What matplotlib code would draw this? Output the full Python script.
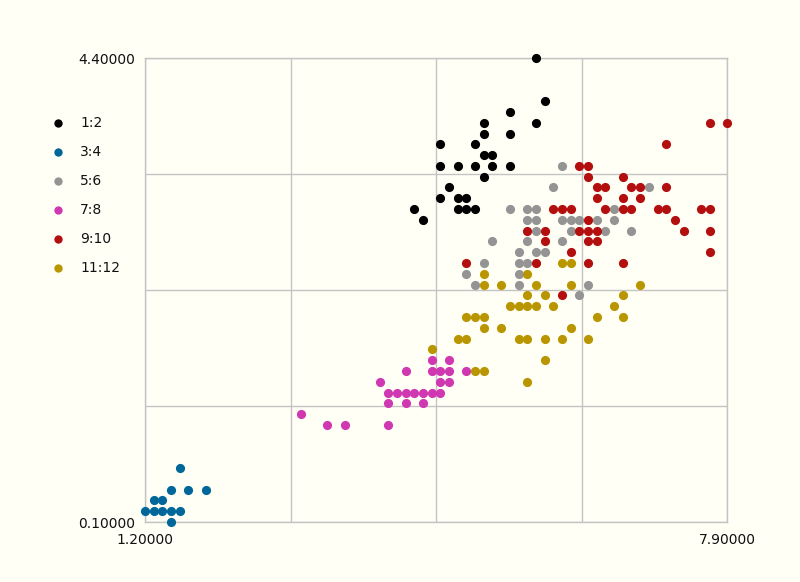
import numpy as np
import matplotlib
matplotlib.use("Agg")
import matplotlib.pyplot as plt
from matplotlib.lines import Line2D

# columns 1:2
s12_x = [5.7, 5.8, 5.4, 5.1, 5.7, 5.1, 5.4, 4.6, 5.0, 5.1, 5.2, 4.6, 4.8, 5.0, 5.2, 5.4, 5.1,
         4.7, 4.6, 4.8, 4.9, 4.8, 4.9, 5.0, 4.3, 4.4]
s12_y = [4.4, 4.0, 3.9, 3.8, 3.8, 3.7, 3.7, 3.6, 3.6, 3.5, 3.5, 3.4, 3.4, 3.4, 3.4, 3.4, 3.3,
         3.2, 3.1, 3.1, 3.1, 3.0, 3.0, 3.0, 3.0, 2.9]

# columns 3:4
s34_x = [1.6, 1.5, 1.7, 1.9, 1.3, 1.4, 1.2, 1.3, 1.4, 1.5, 1.6, 1.5]
s34_y = [0.6, 0.4, 0.4, 0.4, 0.3, 0.3, 0.2, 0.2, 0.2, 0.2, 0.2, 0.1]

# columns 5:6
s56_x = [6.0, 5.9, 7.0, 5.4, 5.6, 5.7, 6.6, 5.6, 5.7, 6.0, 6.1, 6.2, 6.4, 6.6, 5.7, 6.1, 6.5,
         6.8, 5.2, 5.6, 6.0, 5.5, 5.7, 5.8, 5.1, 5.5, 5.6, 4.9, 5.5, 5.0, 5.5, 6.3, 6.2]
s56_y = [3.4, 3.2, 3.2, 3.0, 3.0, 3.0, 3.0, 2.9, 2.9, 2.9, 2.9, 2.9, 2.9, 2.9, 2.8, 2.8, 2.8,
         2.8, 2.7, 2.7, 2.7, 2.6, 2.6, 2.6, 2.5, 2.5, 2.5, 2.4, 2.4, 2.3, 2.3, 2.3, 2.2]

# columns 7:8
s78_x = [4.5, 4.7, 4.2, 4.5, 4.6, 4.7, 4.9, 3.9, 4.6, 4.7, 4.0, 4.1, 4.2, 4.3, 4.4, 4.5, 4.6,
         4.0, 4.2, 4.4, 3.0, 3.3, 3.5, 4.0]
s78_y = [1.6, 1.6, 1.5, 1.5, 1.5, 1.5, 1.5, 1.4, 1.4, 1.4, 1.3, 1.3, 1.3, 1.3, 1.3, 1.3, 1.3,
         1.2, 1.2, 1.2, 1.1, 1.0, 1.0, 1.0]

# columns 9:10
s910_x = [7.7, 7.9, 7.2, 6.2, 6.3, 6.3, 6.7, 6.4, 6.5, 6.8, 6.9, 7.2, 6.4, 6.7, 6.9, 5.9, 6.0,
          6.1, 6.5, 6.7, 6.8, 7.1, 7.2, 7.6, 7.7, 6.3, 7.3, 5.6, 5.8, 6.2, 6.3, 6.4, 7.4, 7.7,
          5.8, 6.3, 6.4, 6.1, 7.7, 4.9, 5.7, 6.3, 6.7, 6.0]
s910_y = [3.8, 3.8, 3.6, 3.4, 3.4, 3.3, 3.3, 3.2, 3.2, 3.2, 3.2, 3.2, 3.1, 3.1, 3.1, 3.0, 3.0,
          3.0, 3.0, 3.0, 3.0, 3.0, 3.0, 3.0, 3.0, 2.9, 2.9, 2.8, 2.8, 2.8, 2.8, 2.8, 2.8, 2.8,
          2.7, 2.7, 2.7, 2.6, 2.6, 2.5, 2.5, 2.5, 2.5, 2.2]

# columns 11:12
s1112_x = [6.0, 6.1, 5.1, 5.6, 5.1, 5.3, 5.7, 6.1, 6.9, 5.6, 5.8, 6.7, 5.4, 5.5, 5.6, 5.7, 5.9,
           6.6, 4.9, 5.0, 5.1, 6.4, 6.7, 5.1, 5.3, 6.1, 4.8, 4.9, 5.5, 5.6, 5.8, 6.0, 6.3, 4.5,
           5.8, 5.0, 5.1, 5.6]
s1112_y = [2.5, 2.5, 2.4, 2.4, 2.3, 2.3, 2.3, 2.3, 2.3, 2.2, 2.2, 2.2, 2.1, 2.1, 2.1, 2.1, 2.1,
           2.1, 2.0, 2.0, 2.0, 2.0, 2.0, 1.9, 1.9, 1.9, 1.8, 1.8, 1.8, 1.8, 1.8, 1.8, 1.8, 1.7,
           1.6, 1.5, 1.5, 1.4]

labels = ["1:2", "3:4", "5:6", "7:8", "9:10", "11:12"]
colors = ["#000000", "#00679a", "#949494", "#d038b2", "#b30f0f", "#b99600"]

x_min, x_max = 1.2, 7.9
y_min, y_max = 0.1, 4.4

bg = "#fffff6"
fig = plt.figure(figsize=(8.0, 5.82), dpi=100, facecolor=bg)
ax = fig.add_axes([145/800, 1-522/582, (727-145)/800, (522-58)/582])
ax.set_facecolor(bg)

series = [(s12_x, s12_y), (s34_x, s34_y), (s56_x, s56_y),
          (s78_x, s78_y), (s910_x, s910_y), (s1112_x, s1112_y)]
for (xs, ys), c in zip(series, colors):
    ax.plot(xs, ys, linestyle="none", marker="o", markersize=6.6,
            markeredgewidth=0, color=c, clip_on=False, zorder=3)

ax.set_xlim(x_min, x_max)
ax.set_ylim(y_min, y_max)
ax.set_xticks(np.linspace(x_min, x_max, 5))
ax.set_yticks(np.linspace(y_min, y_max, 5))
ax.set_xticklabels(["%.5f" % x_min, "", "", "", "%.5f" % x_max])
ax.set_yticklabels(["%.5f" % y_min, "", "", "", "%.5f" % y_max])
ax.tick_params(length=0, labelsize=10, colors="#111111")
ax.tick_params(axis="x", pad=8)
ax.tick_params(axis="y", pad=7)
ax.grid(True, color="#c4c4c4", linewidth=1)
for side in ax.spines.values():
    side.set_color("#c4c4c4")
    side.set_linewidth(1)

# legend at the left
for i, (lab, c) in enumerate(zip(labels, colors)):
    ypix = 123 + i * 29
    fig.add_artist(Line2D([58/800], [1-ypix/582], transform=fig.transFigure,
                          marker="o", markersize=6, markeredgewidth=0,
                          color=c, linestyle="none"))
    fig.text(80/800, 1-ypix/582, lab, fontsize=10, va="center", ha="left",
             color="#111111")

fig.savefig("out.png", dpi=100, facecolor=bg)
